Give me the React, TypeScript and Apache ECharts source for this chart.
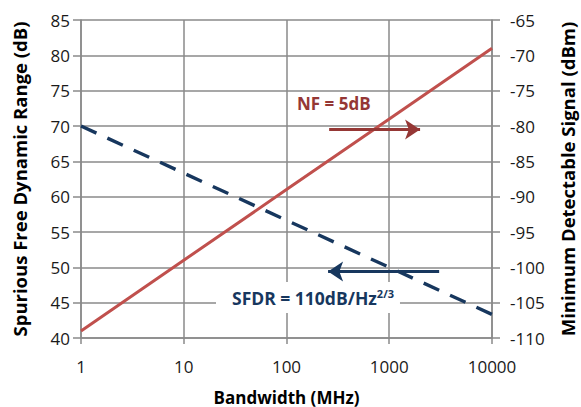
import React, { useEffect, useRef } from "react";
import * as echarts from "echarts";

const bandwidth = [1, 10, 100, 1000, 10000];
const sfdrValues = [70, 63.33, 56.67, 50, 43.33];
const mdsValues = [-109, -99, -89, -79, -69];
const nfArrow = [[260, -80.5], [1995, -80.5]];
const sfdrArrow = [[3060, 49.4], [254, 49.4]];

const RED = "#C0504D";
const DARKRED = "#953735";
const NAVY = "#17375E";
const GRID = "#8a8a8a";
const FONT = "Open Sans";

export default function App() {
  const ref = useRef<HTMLDivElement>(null);
  useEffect(() => {
    if (!ref.current) return;
    const chart = echarts.init(ref.current, null, { renderer: "svg" });
    const axisLabel = { fontFamily: FONT, fontSize: 17, color: "#1a1a1a" };
    const xNameStyle = { fontFamily: FONT, fontSize: 17, lineHeight: 20, fontWeight: "bold" as const, color: "#000" };
    const yNameStyle = { fontFamily: FONT, fontSize: 18.5, fontWeight: "bold" as const, color: "#000" };
    chart.setOption({
      animation: false,
      backgroundColor: "#fff",
      grid: { left: 81, right: 89, top: 20, bottom: 69, containLabel: false, outerBoundsMode: "none" },
      xAxis: {
        type: "log",
        logBase: 10,
        min: 1,
        max: 10000,
        name: "Bandwidth (MHz)",
        nameLocation: "middle",
        nameGap: 49,
        nameTextStyle: xNameStyle,
        axisLine: { show: true, lineStyle: { color: GRID, width: 1.5 } },
        axisTick: { show: true, length: 6, lineStyle: { color: GRID, width: 1.5 } },
        minorTick: { show: false },
        splitLine: { show: true, lineStyle: { color: GRID, width: 1.5 } },
        axisLabel: { ...axisLabel, margin: 20, formatter: (v: number) => String(v) },
      },
      yAxis: [
        {
          type: "value",
          min: 40,
          max: 85,
          interval: 5,
          name: "Spurious Free Dynamic Range (dB)",
          nameLocation: "middle",
          nameRotate: 90,
          nameGap: 52,
          nameTextStyle: yNameStyle,
          axisLine: { show: true, lineStyle: { color: GRID, width: 1.5 } },
          axisTick: { show: true, length: 8, lineStyle: { color: GRID, width: 1.5 } },
          splitLine: { show: true, lineStyle: { color: GRID, width: 1.5 } },
          axisLabel: { ...axisLabel, margin: 11 },
        },
        {
          type: "value",
          min: -110,
          max: -65,
          interval: 5,
          position: "right",
          name: "Minimum Detectable Signal (dBm)",
          nameLocation: "middle",
          nameRotate: 90,
          nameGap: 66,
          nameTextStyle: yNameStyle,
          axisLine: { show: true, lineStyle: { color: GRID, width: 1.5 } },
          axisTick: { show: true, length: 8, lineStyle: { color: GRID, width: 1.5 } },
          splitLine: { show: false },
          axisLabel: { ...axisLabel, margin: 18 },
        },
      ],
      series: [
        {
          type: "line",
          name: "SFDR",
          yAxisIndex: 0,
          data: bandwidth.map((b, i) => [b, sfdrValues[i]]),
          showSymbol: false,
          lineStyle: { color: NAVY, width: 3.4, type: [17, 12], cap: "butt" },
          markLine: {
            silent: true,
            symbol: ["none", "arrow"],
            symbolSize: [15, 15],
            label: { show: false },
            lineStyle: { color: NAVY, width: 3, type: "solid" },
            data: [[{ coord: sfdrArrow[0] }, { coord: sfdrArrow[1] }]],
          },
          z: 3,
        },
        {
          type: "line",
          name: "MDS",
          yAxisIndex: 1,
          data: bandwidth.map((b, i) => [b, mdsValues[i]]),
          showSymbol: false,
          lineStyle: { color: RED, width: 3 },
          markLine: {
            silent: true,
            symbol: ["none", "arrow"],
            symbolSize: [15, 15],
            label: { show: false },
            lineStyle: { color: DARKRED, width: 3, type: "solid" },
            data: [[{ coord: nfArrow[0] }, { coord: nfArrow[1] }]],
          },
          z: 3,
        },
      ],
      graphic: [
        {
          type: "text",
          left: 297,
          top: 95,
          z: 10,
          style: {
            text: "NF = 5dB",
            fontFamily: FONT,
            fontSize: 17,
            fontWeight: "bold",
            fill: DARKRED,
          },
        },
        {
          type: "text",
          left: 216,
          top: 282,
          z: 10,
          style: {
            text: "{m|SFDR = 110dB/Hz}{s|2/3}",
            backgroundColor: "#fff",
            padding: [6, 6, 6, 16],
            rich: {
              m: { fontFamily: FONT, fontSize: 17.5, fontWeight: "bold", fill: NAVY, color: NAVY, verticalAlign: "bottom" },
              s: { fontFamily: FONT, fontSize: 11, fontWeight: "bold", fill: NAVY, color: NAVY, verticalAlign: "top", padding: [0, 0, 8, 0] },
            },
          },
        },
      ],
    });
    return () => chart.dispose();
  }, []);
  return <div ref={ref} style={{ position: "fixed", left: 0, top: 0, width: 581, height: 407 }} />;
}
